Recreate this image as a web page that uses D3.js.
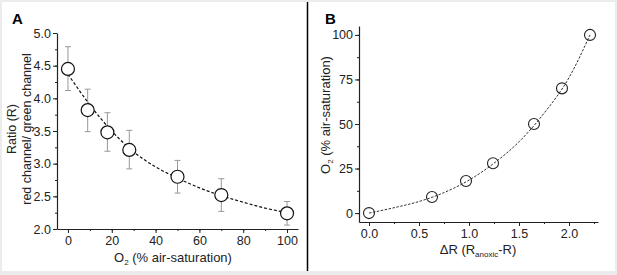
<!DOCTYPE html>
<html lang="en">
<head>
    <meta charset="UTF-8">
    <title>Ratio calibration and O2 fit</title>
    <script src="https://d3js.org/d3.v7.min.js"></script>
    <style>
        body { margin: 0; background: #fff; }
        svg { display: block; font-family: "Liberation Sans", Arial, sans-serif; }
        .tick text { fill: #222; }
    </style>
</head>
<body>
<svg id="chart" width="617" height="275"></svg>
<script>
// Panel A: ratio vs O2 with error bars
const o2Levels = [0, 9, 18, 28, 50, 70, 100];
const ratioMean = [4.45, 3.82, 3.48, 3.21, 2.80, 2.52, 2.24];
const ratioLow  = [4.12, 3.49, 3.19, 2.92, 2.55, 2.27, 2.06];
const ratioHigh = [4.79, 4.14, 3.78, 3.51, 3.05, 2.77, 2.42];
// dashed fit
const fitAx = [0, 10, 20, 30, 40, 50, 60, 70, 80, 90, 100];
const fitAy = [4.37, 3.90, 3.50, 3.18, 2.95, 2.78, 2.63, 2.51, 2.41, 2.32, 2.25];
const ticksAx = [0, 20, 40, 60, 80, 100];
const ticksAy = [2.0, 2.5, 3.0, 3.5, 4.0, 4.5, 5.0];

// Panel B: O2 vs delta R
const deltaR = [0, 0.63, 0.97, 1.24, 1.65, 1.93, 2.21];
const o2B = [0, 9, 18, 28, 50, 70, 100];
const fitBx = [0, 0.25, 0.5, 0.75, 1.0, 1.25, 1.5, 1.75, 2.0, 2.21];
const fitBy = [0, 3, 6.5, 11.5, 18.5, 28, 40, 56, 76, 100];
const ticksBx = [0.0, 0.5, 1.0, 1.5, 2.0];
const ticksBy = [0, 25, 50, 75, 100];

const svg = d3.select('#chart');

// frame
svg.append('rect').attr('width', 617).attr('height', 275).attr('fill', '#ececec');
svg.append('rect').attr('x', 2).attr('y', 2).attr('width', 613).attr('height', 269).attr('fill', '#fff');
svg.append('line').attr('x1', 307.5).attr('x2', 307.5).attr('y1', 2).attr('y2', 271)
    .attr('stroke', '#000').attr('stroke-width', 1.5);

function styleAxis(g) {
    g.select('.domain').attr('stroke', '#222').attr('stroke-width', 1.2);
    g.selectAll('.tick line').attr('stroke', '#222').attr('stroke-width', 1);
    g.selectAll('.tick text').attr('font-size', '12.5px');
}

// ---------- Panel A ----------
const xA = d3.scaleLinear().domain([-5, 105]).range([57, 298]);
const yA = d3.scaleLinear().domain([2, 5]).range([229, 33]);

const gA = svg.append('g');

gA.append('g').attr('transform', 'translate(0,229)')
    .call(d3.axisBottom(xA).tickValues(d3.range(0, 101, 10)).tickSize(2).tickFormat('').tickSizeOuter(0))
    .call(g => g.select('.domain').remove())
    .call(g => g.selectAll('.tick line').attr('stroke', '#222'));
gA.append('g').attr('transform', 'translate(0,229)')
    .call(d3.axisBottom(xA).tickValues(ticksAx).tickSize(4).tickSizeOuter(0).tickPadding(3))
    .call(styleAxis);

gA.append('g').attr('transform', 'translate(57,0)')
    .call(d3.axisLeft(yA).tickValues(d3.range(2, 5.01, 0.25)).tickSize(2).tickFormat('').tickSizeOuter(0))
    .call(g => g.select('.domain').remove())
    .call(g => g.selectAll('.tick line').attr('stroke', '#222'));
gA.append('g').attr('transform', 'translate(57,0)')
    .call(d3.axisLeft(yA).tickValues(ticksAy).tickSize(4).tickSizeOuter(0).tickPadding(2).tickFormat(d3.format('.1f')))
    .call(styleAxis);

// error bars
o2Levels.forEach((x, i) => {
    const cx = xA(x);
    gA.append('line').attr('x1', cx).attr('x2', cx).attr('y1', yA(ratioLow[i])).attr('y2', yA(ratioHigh[i]))
        .attr('stroke', '#999').attr('stroke-width', 1);
    [ratioLow[i], ratioHigh[i]].forEach(v => {
        gA.append('line').attr('x1', cx - 3).attr('x2', cx + 3).attr('y1', yA(v)).attr('y2', yA(v))
            .attr('stroke', '#999').attr('stroke-width', 1);
    });
});

gA.append('path')
    .datum(fitAx.map((x, i) => [x, fitAy[i]]))
    .attr('d', d3.line().x(d => xA(d[0])).y(d => yA(d[1])).curve(d3.curveMonotoneX))
    .attr('fill', 'none').attr('stroke', '#111').attr('stroke-width', 1.2).attr('stroke-dasharray', '3,2');

gA.selectAll('circle.pt').data(o2Levels).enter().append('circle')
    .attr('cx', d => xA(d)).attr('cy', (d, i) => yA(ratioMean[i])).attr('r', 6.5)
    .attr('fill', '#fff').attr('stroke', '#111').attr('stroke-width', 1.2);

gA.append('text').attr('x', 12).attr('y', 24).attr('font-size', '15px').attr('font-weight', 'bold').text('A');

gA.append('text').attr('transform', 'translate(16,129) rotate(-90)').attr('text-anchor', 'middle')
    .attr('font-size', '12.5px').attr('fill', '#222').text('Ratio (R)');
gA.append('text').attr('transform', 'translate(31,129) rotate(-90)').attr('text-anchor', 'middle')
    .attr('font-size', '12.5px').attr('fill', '#222').text('red channel/ green channel');

const xlabA = gA.append('text').attr('x', 173).attr('y', 262).attr('text-anchor', 'middle')
    .attr('font-size', '13px').attr('fill', '#222');
xlabA.append('tspan').text('O');
xlabA.append('tspan').attr('font-size', '8px').attr('dy', 3).text('2');
xlabA.append('tspan').attr('dy', -3).text(' (% air-saturation)');

// ---------- Panel B ----------
const xB = d3.scaleLinear().domain([-0.1, 2.29]).range([359, 598]);
const yB = d3.scaleLinear().domain([-5, 105]).range([222, 26]);

const gB = svg.append('g');

gB.append('g').attr('transform', 'translate(0,222)')
    .call(d3.axisBottom(xB).tickValues(d3.range(0, 2.26, 0.25)).tickSize(2).tickFormat('').tickSizeOuter(0))
    .call(g => g.select('.domain').remove())
    .call(g => g.selectAll('.tick line').attr('stroke', '#222'));
gB.append('g').attr('transform', 'translate(0,222)')
    .call(d3.axisBottom(xB).tickValues(ticksBx).tickSize(4).tickSizeOuter(0).tickPadding(3).tickFormat(d3.format('.1f')))
    .call(styleAxis);

gB.append('g').attr('transform', 'translate(359,0)')
    .call(d3.axisLeft(yB).tickValues(d3.range(0, 101, 12.5)).tickSize(2).tickFormat('').tickSizeOuter(0))
    .call(g => g.select('.domain').remove())
    .call(g => g.selectAll('.tick line').attr('stroke', '#222'));
gB.append('g').attr('transform', 'translate(359,0)')
    .call(d3.axisLeft(yB).tickValues(ticksBy).tickSize(4).tickSizeOuter(0).tickPadding(2))
    .call(styleAxis);

gB.append('path')
    .datum(fitBx.map((x, i) => [x, fitBy[i]]))
    .attr('d', d3.line().x(d => xB(d[0])).y(d => yB(d[1])).curve(d3.curveMonotoneX))
    .attr('fill', 'none').attr('stroke', '#333').attr('stroke-width', 1).attr('stroke-dasharray', '2.5,1.5');

gB.selectAll('circle.pt').data(deltaR).enter().append('circle')
    .attr('cx', d => xB(d)).attr('cy', (d, i) => yB(o2B[i])).attr('r', 5.5)
    .attr('fill', 'none').attr('stroke', '#222').attr('stroke-width', 1.1);

gB.append('text').attr('x', 325).attr('y', 24).attr('font-size', '15px').attr('font-weight', 'bold').text('B');

const ylabB = gB.append('text').attr('transform', 'translate(330,115) rotate(-90)').attr('text-anchor', 'middle')
    .attr('font-size', '13px').attr('fill', '#222');
ylabB.append('tspan').text('O');
ylabB.append('tspan').attr('font-size', '8px').attr('dy', 3).text('2');
ylabB.append('tspan').attr('dy', -3).text(' (% air-saturation)');

const xlabB = gB.append('text').attr('x', 478).attr('y', 254).attr('text-anchor', 'middle')
    .attr('font-size', '13px').attr('fill', '#222');
xlabB.append('tspan').text('\u0394R (R');
xlabB.append('tspan').attr('font-size', '8px').attr('dy', 3).text('anoxic');
xlabB.append('tspan').attr('dy', -3).text('-R)');
</script>
</body>
</html>
